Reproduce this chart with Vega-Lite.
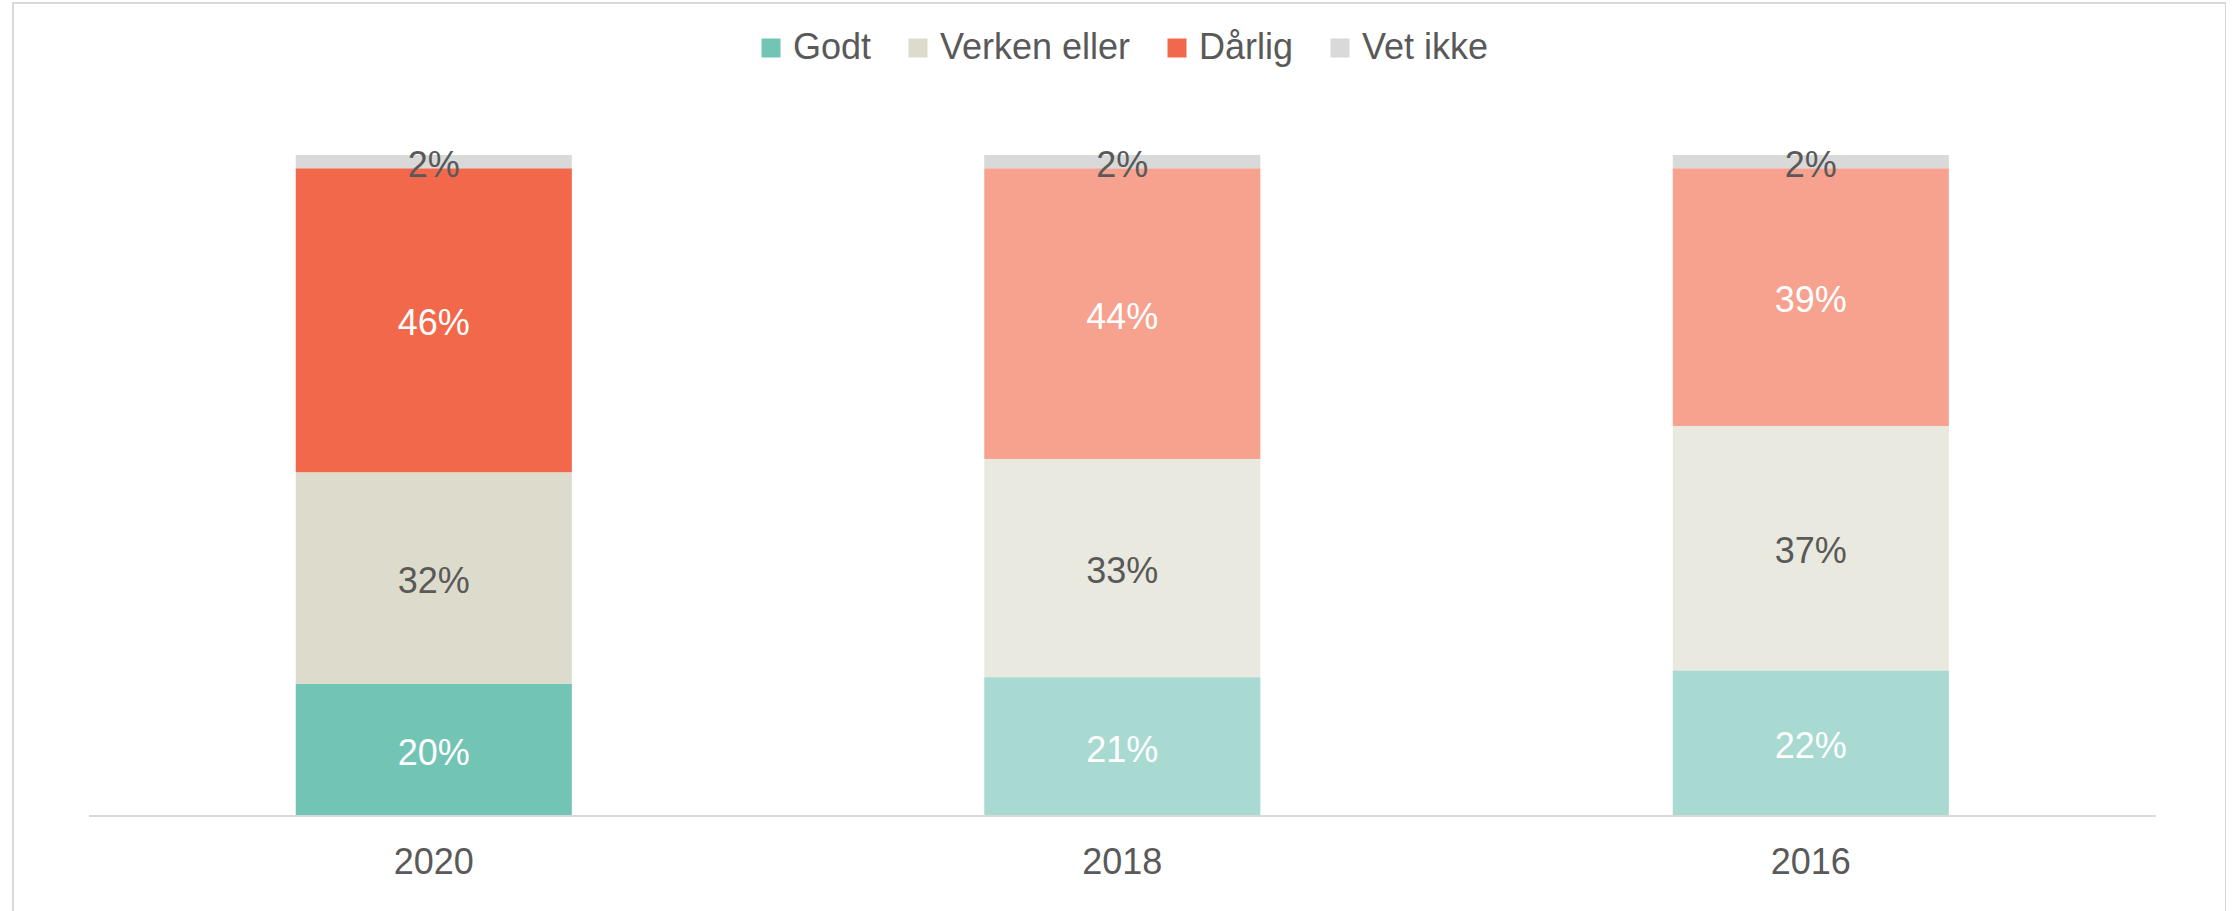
{
  "$schema": "https://vega.github.io/schema/vega-lite/v6.json",
  "width": 2213,
  "height": 910,
  "autosize": {"type": "none"},
  "padding": {"left": 13, "top": 3, "right": 0, "bottom": 0},
  "background": "white",
  "config": {
    "view": {"stroke": "#d9d9d9", "strokeWidth": 2, "fill": "white"},
    "font": "Liberation Sans"
  },
  "data": {
    "values": [
      {"aar": "2020", "kategori": "Godt", "pct": 20, "ord": 1},
      {"aar": "2020", "kategori": "Verken eller", "pct": 32, "ord": 2},
      {"aar": "2020", "kategori": "Dårlig", "pct": 46, "ord": 3},
      {"aar": "2020", "kategori": "Vet ikke", "pct": 2, "ord": 4},
      {"aar": "2018", "kategori": "Godt", "pct": 21, "ord": 1},
      {"aar": "2018", "kategori": "Verken eller", "pct": 33, "ord": 2},
      {"aar": "2018", "kategori": "Dårlig", "pct": 44, "ord": 3},
      {"aar": "2018", "kategori": "Vet ikke", "pct": 2, "ord": 4},
      {"aar": "2016", "kategori": "Godt", "pct": 22, "ord": 1},
      {"aar": "2016", "kategori": "Verken eller", "pct": 37, "ord": 2},
      {"aar": "2016", "kategori": "Dårlig", "pct": 39, "ord": 3},
      {"aar": "2016", "kategori": "Vet ikke", "pct": 2, "ord": 4}
    ]
  },
  "transform": [
    {"stack": "pct", "groupby": ["aar"], "sort": [{"field": "ord", "order": "ascending"}], "as": ["y0", "y1"]},
    {"calculate": "(datum.y0 + datum.y1) / 2", "as": "mid"},
    {"calculate": "datum.pct + '%'", "as": "label"}
  ],
  "layer": [
    {
      "mark": {"type": "bar"},
      "encoding": {
        "x": {
          "field": "aar", "type": "nominal", "sort": ["2020", "2018", "2016"],
          "scale": {"paddingInner": 0.599, "paddingOuter": 0.4066, "align": 0.505},
          "axis": {
            "title": null, "labelAngle": 0, "labelFontSize": 36, "labelColor": "#595959",
            "labelFont": "Liberation Sans", "ticks": false, "domain": false, "grid": false,
            "labelPadding": 29, "offset": -97
          }
        },
        "y": {"field": "y0", "type": "quantitative", "scale": {"domain": [-14.67, 123.0], "zero": false, "nice": false}, "axis": null},
        "y2": {"field": "y1"},
        "color": {
          "field": "kategori", "type": "nominal",
          "scale": {"domain": ["Godt", "Verken eller", "Dårlig", "Vet ikke"], "range": ["#72C4B4", "#DDDBCB", "#F2684A", "#D9D9D9"]},
          "legend": {
            "orient": "none", "legendX": 740, "legendY": 27, "direction": "horizontal", "title": null,
            "symbolType": "square", "symbolSize": 361, "symbolStrokeWidth": 0, "symbolOpacity": 1,
            "labelFontSize": 36, "labelFont": "Liberation Sans", "labelColor": "#595959",
            "labelOffset": 4, "columnPadding": 28, "padding": 0, "labelLimit": 500
          }
        },
        "opacity": {
          "condition": {"test": "datum.aar != '2020' && datum.kategori != 'Vet ikke'", "value": 0.62},
          "value": 1
        }
      }
    },
    {
      "mark": {"type": "text", "fontSize": 36, "font": "Liberation Sans", "baseline": "middle", "align": "center", "dy": 4},
      "encoding": {
        "x": {"field": "aar", "type": "nominal", "sort": ["2020", "2018", "2016"]},
        "y": {"field": "mid", "type": "quantitative", "scale": {"domain": [-14.67, 123.0], "zero": false, "nice": false}},
        "text": {"field": "label"},
        "color": {
          "condition": {"test": "datum.kategori == 'Godt' || datum.kategori == 'Dårlig'", "value": "white"},
          "value": "#595959"
        }
      }
    },
    {
      "mark": {"type": "rule", "color": "#d9d9d9", "strokeWidth": 2},
      "encoding": {
        "x": {"datum": "2020", "type": "nominal", "bandPosition": -0.747},
        "x2": {"datum": "2016", "bandPosition": 1.747},
        "y": {"datum": 0, "type": "quantitative", "scale": {"domain": [-14.67, 123.0], "zero": false, "nice": false}}
      }
    }
  ]
}
